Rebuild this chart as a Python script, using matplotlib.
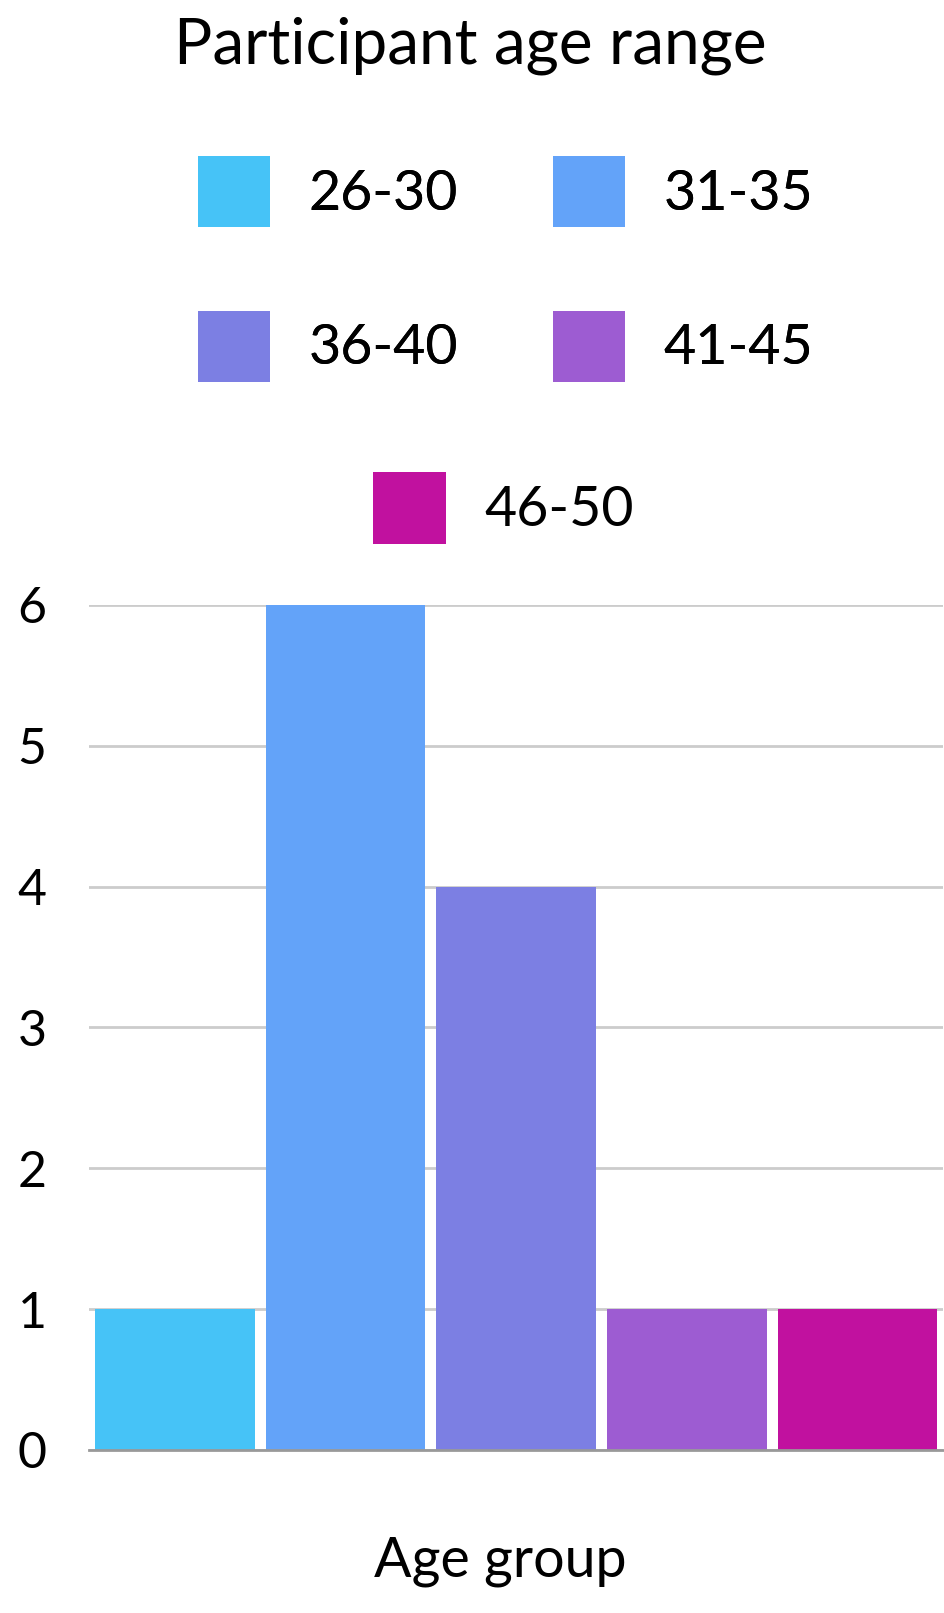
import numpy as np
import matplotlib.pyplot as plt
from matplotlib.patches import Patch

groups = ['26-30', '31-35', '36-40', '41-45', '46-50']
counts = [1, 6, 4, 1, 1]
colors = ['#46C3F7', '#63A3F9', '#7C7FE3', '#9D5CD2', '#C1119F']
yticks = [0, 1, 2, 3, 4, 5, 6]

plt.rcParams['font.family'] = ['Lato', 'DejaVu Sans']

fig = plt.figure(figsize=(9.45, 16.13), dpi=100)
ax = fig.add_axes([0.0947, 0.1011, 0.903, 0.5239])

x = np.arange(len(groups))
ax.bar(x, counts, width=0.935, color=colors, zorder=3)

ax.set_xlim(-0.5, len(groups) - 0.5)
ax.set_ylim(0, 6)
ax.set_yticks(yticks)
ax.set_xticks([])
ax.tick_params(axis='y', length=0, pad=31, labelsize=36)
ax.grid(axis='y', color='#cccccc', linewidth=2, zorder=0)
for s in ['top', 'right', 'left']:
    ax.spines[s].set_visible(False)
ax.spines['bottom'].set_color('#999999')
ax.spines['bottom'].set_linewidth(2)
ax.spines['bottom'].set_zorder(4)

fig.text(0.498, 0.9715, 'Participant age range', ha='center', va='center', fontsize=46)
fig.text(0.529, 0.032, 'Age group', ha='center', va='center', fontsize=40)

# legend fills by column, so order so that rows read 26-30, 31-35 / 36-40, 41-45
handles = [Patch(facecolor=c, label=g) for c, g in zip(colors, groups)]
order = [0, 2, 1, 3]
leg1 = fig.legend(handles=[handles[i] for i in order], ncol=2, loc='center',
                  bbox_to_anchor=(0.535, 0.8333), frameon=False, fontsize=40,
                  handlelength=1.3, handleheight=1.6, handletextpad=0.7,
                  columnspacing=1.7, labelspacing=1.5)
fig.add_artist(leg1)
fig.legend(handles=handles[4:], loc='center', bbox_to_anchor=(0.533, 0.685),
           frameon=False, fontsize=40, handlelength=1.3, handleheight=1.6,
           handletextpad=0.7)

fig.savefig('out.png', dpi=100)
